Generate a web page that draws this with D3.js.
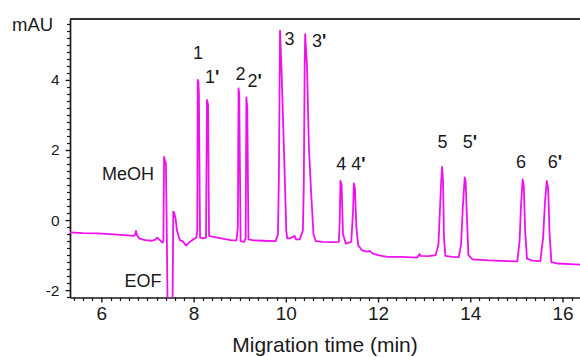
<!DOCTYPE html>
<html>
<head>
<meta charset="utf-8">
<script src="https://cdn.jsdelivr.net/npm/d3@7"></script>
<style>
  html, body { margin: 0; padding: 0; background: #fff; }
  svg { display: block; font-family: 'Liberation Sans', Arial, Helvetica, sans-serif; }
</style>
</head>
<body>
<svg id="chart" width="580" height="357"></svg>
<script>
// Electropherogram trace: migration time (min) / absorbance (mAU)
const traceTime = [
  5.32, 5.6, 5.9, 6.2, 6.5, 6.7, 6.73, 6.75, 6.78, 6.83, 6.95, 7.1, 7.17, 7.21, 7.26, 7.32, 7.345,
  7.36, 7.38, 7.40, 7.42, 7.44, 7.54, 7.56, 7.58, 7.61, 7.64, 7.70, 7.76, 7.84, 7.92, 8.0, 8.06,
  8.08, 8.09, 8.105, 8.115, 8.14, 8.2, 8.27, 8.29, 8.315, 8.335, 8.4, 8.6, 8.8, 8.93,
  8.96, 8.975, 8.99, 9.02, 9.1, 9.13, 9.145, 9.165, 9.19, 9.3, 9.5, 9.78,
  9.83, 9.85, 9.875, 9.905, 9.94, 9.975, 10.01, 10.03, 10.1, 10.19, 10.22, 10.3,
  10.37, 10.39, 10.41, 10.42, 10.46, 10.5, 10.55, 10.6, 10.65, 10.8, 11.0, 11.15,
  11.17, 11.185, 11.21, 11.24, 11.3, 11.42, 11.46, 11.475, 11.5, 11.53, 11.57, 11.65, 11.75,
  11.82, 11.88, 12.0, 12.2, 12.5, 12.85, 12.9, 12.92, 13.1, 13.25,
  13.31, 13.34, 13.37, 13.39, 13.41, 13.43, 13.46, 13.6, 13.75,
  13.80, 13.84, 13.88, 13.9, 13.93, 13.96, 14.05, 14.4, 14.8, 15.02,
  15.07, 15.1, 15.135, 15.16, 15.19, 15.23, 15.35, 15.52,
  15.58, 15.62, 15.66, 15.69, 15.72, 15.76, 15.9, 16.4
];
const traceSignal = [
  -0.35, -0.37, -0.38, -0.40, -0.43, -0.45, -0.42, -0.31, -0.45, -0.53, -0.57, -0.59, -0.56, -0.50, -0.56, -0.64, -0.62,
  1.8, 1.7, 1.62, -0.5, -3.0, -3.0, 0.24, 0.2, 0.04, -0.3, -0.57, -0.6, -0.73, -0.62, -0.55, -0.5,
  -0.3, 4.0, 3.95, 3.63, -0.5, -0.52, -0.5, 3.43, 3.3, -0.45, -0.47, -0.52, -0.57, -0.58,
  -0.2, 3.76, 3.6, -0.6, -0.62, -0.5, 3.5, 3.2, -0.55, -0.58, -0.59, -0.6,
  -0.4, 1.24, 5.41, 4.4, 2.86, 1.34, -0.3, -0.52, -0.52, -0.45, -0.55, -0.55,
  -0.3, 1.0, 4.5, 5.31, 4.38, 2.1, 0.77, -0.4, -0.6, -0.62, -0.63, -0.62,
  0.0, 1.12, 1.0, -0.4, -0.67, -0.62, 0.3, 1.05, 0.9, -0.2, -0.72, -0.86, -0.9,
  -0.88, -0.95, -1.0, -1.05, -1.05, -1.07, -0.97, -1.02, -1.03, -1.0,
  -0.7, 0.2, 1.1, 1.52, 1.1, -0.5, -1.02, -1.05, -1.06,
  -0.7, 0.4, 1.22, 1.1, 0.0, -1.0, -1.12, -1.15, -1.17, -1.18,
  -0.6, 0.4, 1.16, 1.0, -0.3, -1.1, -1.16, -1.17,
  -0.5, 0.5, 1.12, 0.9, -0.4, -1.2, -1.24, -1.27
];

// Peak annotations (text, time, mAU at the text baseline)
const peakNames  = ['1', '2', '3', '4', '5', '6'];
const peakTimes  = [7.99, 8.91, 9.97, 11.095, 13.29, 14.99];
const peakLevels = [4.59, 4.01, 5.0, 1.43, 2.05, 1.48];
const primeTimes  = [8.247, 9.169, 10.568, 11.421, 13.836, 15.678];
const primeLevels = [3.92, 3.80, 4.94, 1.43, 2.05, 1.48];

const noteNames  = ['MeOH', 'EOF'];
const noteTimes  = [6.014, 6.504];
const noteLevels = [1.145, -1.90];

// Axes
const xDomain = [5.32, 16.38];
const yDomain = [-2.21, 5.74];
const xMajorTicks = [6, 8, 10, 12, 14, 16];
const yMajorTicks = [-2, 0, 2, 4];
const xTitle = 'Migration time (min)';
const yTitle = 'mAU';

const svg = d3.select('#chart');
const M = { left: 70, right: 0, top: 19, bottom: 59.5 };
const W = 580, H = 357;

const x = d3.scaleLinear().domain(xDomain).range([M.left, W - M.right]);
const y = d3.scaleLinear().domain(yDomain).range([H - M.bottom, M.top]);

const INK = '#1a1a1a';
const TRACE = '#ee11ee';

// Clip — trace is cut at the plot frame (EOF dip runs off the bottom)
svg.append('defs').append('clipPath').attr('id', 'plot-clip')
  .append('rect')
  .attr('x', M.left).attr('y', M.top)
  .attr('width', W - M.left - M.right).attr('height', H - M.top - M.bottom);

// Minor ticks every 0.2 units on both axes
const xMinor = d3.range(5.4, 16.39, 0.2).filter(v => !xMajorTicks.some(t => Math.abs(t - v) < 1e-6));
const yMinor = d3.range(-2.2, 5.75, 0.2).filter(v => !yMajorTicks.some(t => Math.abs(t - v) < 1e-6));

const xAxis = svg.append('g')
  .attr('transform', `translate(0,${H - M.bottom})`)
  .call(d3.axisBottom(x).tickValues(xMajorTicks).tickSize(5).tickSizeOuter(0).tickPadding(4).tickFormat(d3.format('d')));
xAxis.append('g').selectAll('line')
  .data(xMinor).enter().append('line')
  .attr('x1', d => Math.round(x(d)) + 0.5).attr('x2', d => Math.round(x(d)) + 0.5)
  .attr('y1', 0).attr('y2', 3.5)
  .attr('stroke', INK).attr('stroke-width', 1.2);

const yAxis = svg.append('g')
  .attr('transform', `translate(${M.left},0)`)
  .call(d3.axisLeft(y).tickValues(yMajorTicks).tickSize(4.5).tickSizeOuter(0).tickPadding(6).tickFormat(d3.format('d')));
yAxis.append('g').selectAll('line')
  .data(yMinor).enter().append('line')
  .attr('x1', 0).attr('x2', -3)
  .attr('y1', d => Math.round(y(d)) + 0.5).attr('y2', d => Math.round(y(d)) + 0.5)
  .attr('stroke', INK).attr('stroke-width', 1.2);

xAxis.select('.domain').attr('stroke', INK).attr('stroke-width', 1.7);
yAxis.select('.domain').attr('stroke', INK).attr('stroke-width', 1.7);
svg.selectAll('.tick line').attr('stroke', INK).attr('stroke-width', 1.4);
xAxis.selectAll('.tick text')
  .attr('font-family', "'Liberation Sans', Arial, sans-serif")
  .attr('font-size', '19px').attr('fill', INK);
yAxis.selectAll('.tick text')
  .attr('font-family', "'Liberation Sans', Arial, sans-serif")
  .attr('font-size', '15.5px').attr('fill', INK)
  .text(d => d < 0 ? '-' + Math.abs(d) : d);

// Top frame line
svg.append('line')
  .attr('x1', M.left).attr('x2', W)
  .attr('y1', y(yDomain[1])).attr('y2', y(yDomain[1]))
  .attr('stroke', '#333').attr('stroke-width', 2);

// Trace
const pts = traceTime.map((t, i) => [t, traceSignal[i]]);
svg.append('path')
  .datum(pts)
  .attr('clip-path', 'url(#plot-clip)')
  .attr('fill', 'none')
  .attr('stroke', TRACE)
  .attr('stroke-width', 1.8)
  .attr('stroke-linejoin', 'round')
  .attr('d', d3.line().x(d => x(d[0])).y(d => y(d[1])));

// Peak labels
const labels = svg.append('g')
  .attr('font-size', '18px').attr('fill', INK);
labels.selectAll('text.peak')
  .data(peakNames).enter().append('text')
  .attr('class', 'peak')
  .attr('x', (d, i) => x(peakTimes[i]))
  .attr('y', (d, i) => y(peakLevels[i]))
  .text(d => d);
const primed = labels.selectAll('text.prime')
  .data(peakNames).enter().append('text')
  .attr('class', 'prime')
  .attr('x', (d, i) => x(primeTimes[i]))
  .attr('y', (d, i) => y(primeLevels[i]));
primed.append('tspan').text(d => d);
primed.append('tspan').attr('font-weight', 'bold').text("'");

labels.selectAll('text.note')
  .data(noteNames).enter().append('text')
  .attr('class', 'note')
  .attr('x', (d, i) => x(noteTimes[i]))
  .attr('y', (d, i) => y(noteLevels[i]))
  .text(d => d);

// Axis titles
svg.append('text')
  .attr('x', (M.left + W - M.right) / 2).attr('y', 352)
  .attr('text-anchor', 'middle')
  .attr('font-size', '21px').attr('fill', INK)
  .text(xTitle);
svg.append('text')
  .attr('x', 12).attr('y', 30.5)
  .attr('font-size', '18.5px').attr('fill', INK)
  .text(yTitle);
</script>
</body>
</html>
